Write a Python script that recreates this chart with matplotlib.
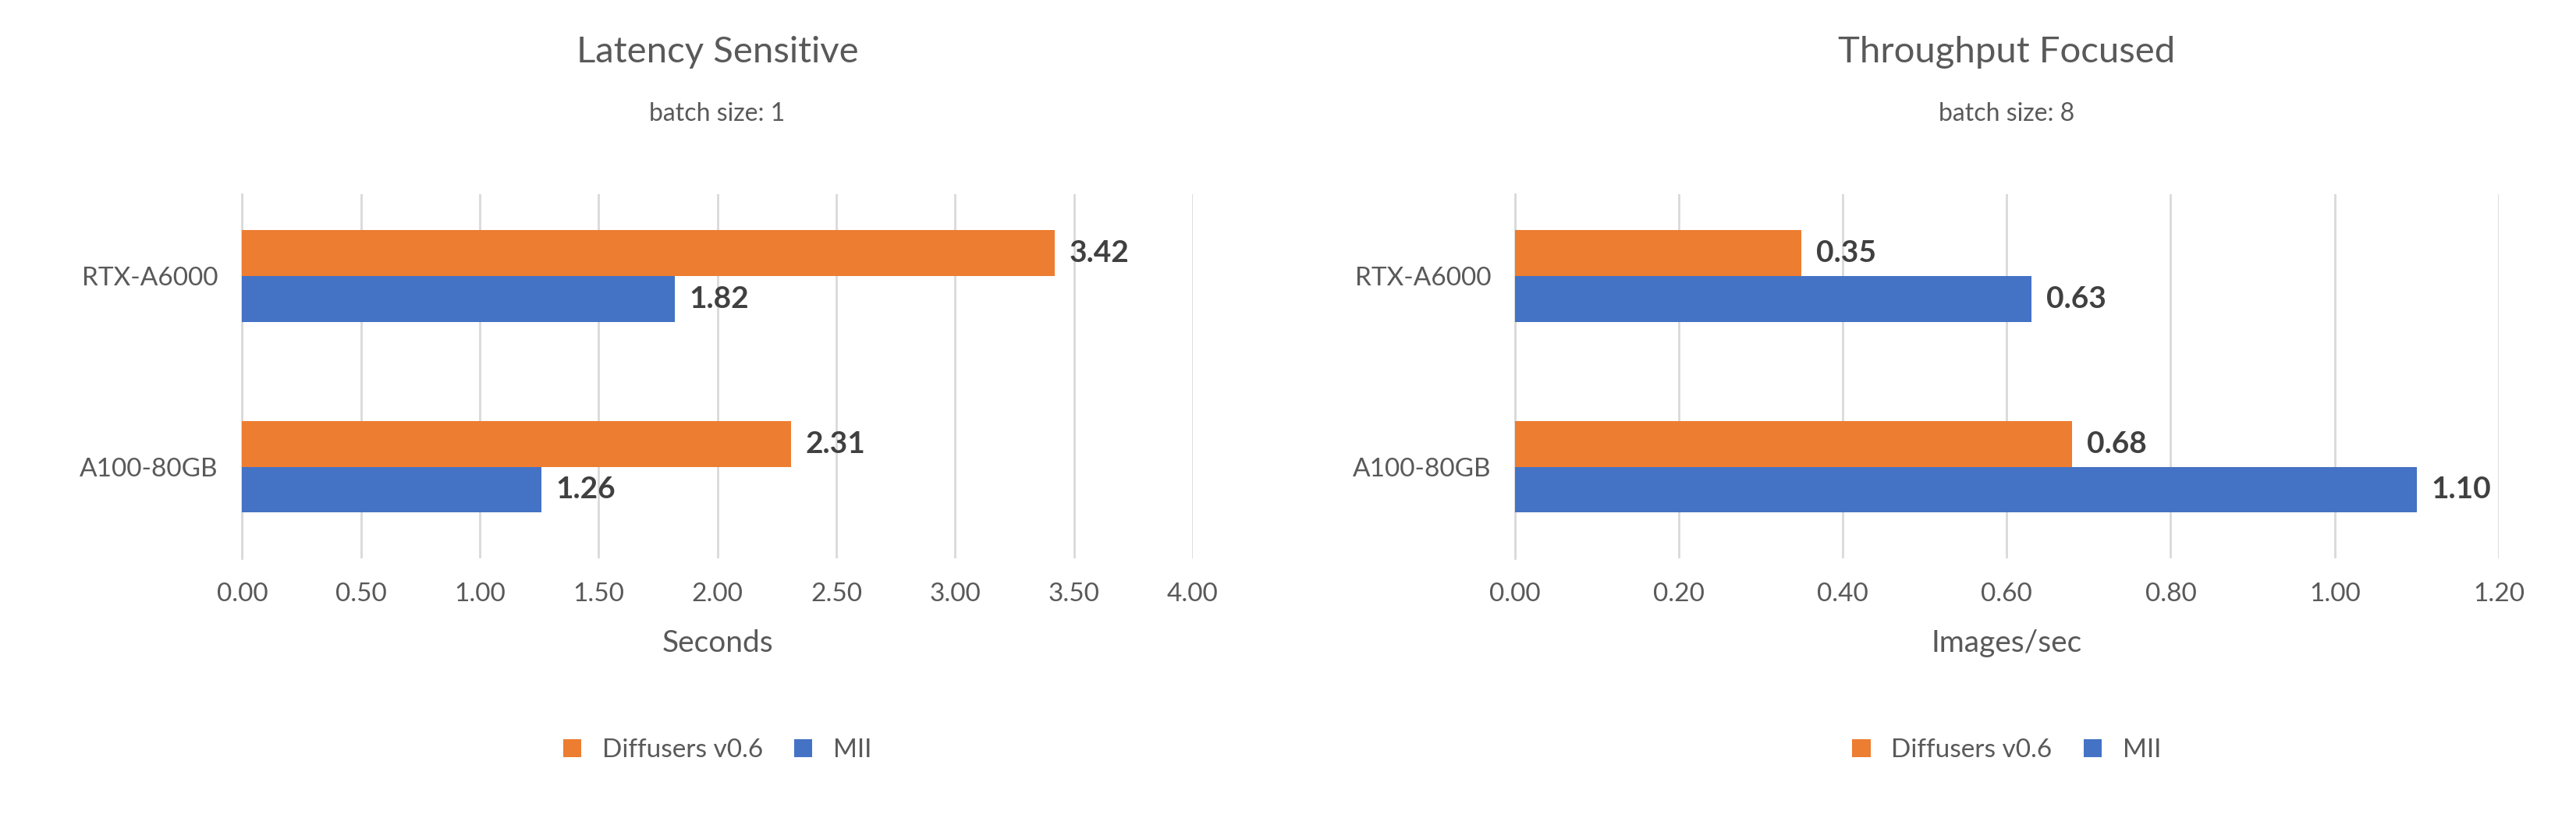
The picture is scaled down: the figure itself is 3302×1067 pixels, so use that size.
import matplotlib.pyplot as plt
import numpy as np

plt.rcParams['font.family'] = ['Lato', 'DejaVu Sans']

gpus = ['A100-80GB', 'RTX-A6000']
latency_diffusers = [2.31, 3.42]
latency_mii = [1.26, 1.82]
tput_diffusers = [0.68, 0.35]
tput_mii = [1.10, 0.63]

ORANGE = '#ED7D31'
BLUE = '#4472C4'
GREY = '#595959'

fig = plt.figure(figsize=(33.02, 10.67), dpi=100, facecolor='white')


def panel(rect, dvals, mvals, xmax, step, title, sub, xlabel):
    ax = fig.add_axes(rect)
    y = np.arange(len(gpus))
    h = 0.24
    ax.barh(y + h / 2, dvals, h, color=ORANGE, label='Diffusers v0.6', zorder=3)
    ax.barh(y - h / 2, mvals, h, color=BLUE, label='MII', zorder=3)
    for yy, v in zip(y + h / 2, dvals):
        ax.text(v + xmax * 0.015, yy, f'{v:.2f}', va='center', ha='left',
                fontsize=28, fontweight='bold', color='#404040')
    for yy, v in zip(y - h / 2, mvals):
        ax.text(v + xmax * 0.015, yy, f'{v:.2f}', va='center', ha='left',
                fontsize=28, fontweight='bold', color='#404040')
    ax.set_xlim(0, xmax)
    ax.set_ylim(-0.48, 1.43)
    ticks = np.arange(0, xmax + step / 2, step)
    ax.set_xticks(ticks)
    ax.set_xticklabels([f'{t:.2f}' for t in ticks])
    ax.set_yticks(y)
    ax.set_yticklabels(gpus)
    ax.tick_params(length=0, labelsize=24, colors=GREY, pad=22)
    ax.grid(axis='x', color='#D9D9D9', lw=2, zorder=0)
    for s in ['top', 'right', 'bottom']:
        ax.spines[s].set_visible(False)
    ax.spines['left'].set_color('#D9D9D9')
    ax.spines['left'].set_linewidth(2)
    ax.set_xlabel(xlabel, fontsize=28, color=GREY, labelpad=22)
    cx = (rect[0] + rect[0] + rect[2]) / 2
    fig.text(cx, 0.925, title, ha='center', fontsize=34, color=GREY)
    fig.text(cx, 0.855, sub, ha='center', fontsize=23, color=GREY)
    ax.legend(loc='upper center', bbox_to_anchor=(0.5, -0.43), ncol=2,
              frameon=False, fontsize=24, labelcolor=GREY,
              handlelength=0.7, handleheight=0.7, columnspacing=1.2)
    return ax


panel([0.094, 0.329, 0.369, 0.438], latency_diffusers, latency_mii, 4.0, 0.5,
      'Latency Sensitive', 'batch size: 1', 'Seconds')
panel([0.588, 0.329, 0.382, 0.438], tput_diffusers, tput_mii, 1.2, 0.2,
      'Throughput Focused', 'batch size: 8', 'Images/sec')

fig.savefig('out.png', dpi=100, facecolor='white')
